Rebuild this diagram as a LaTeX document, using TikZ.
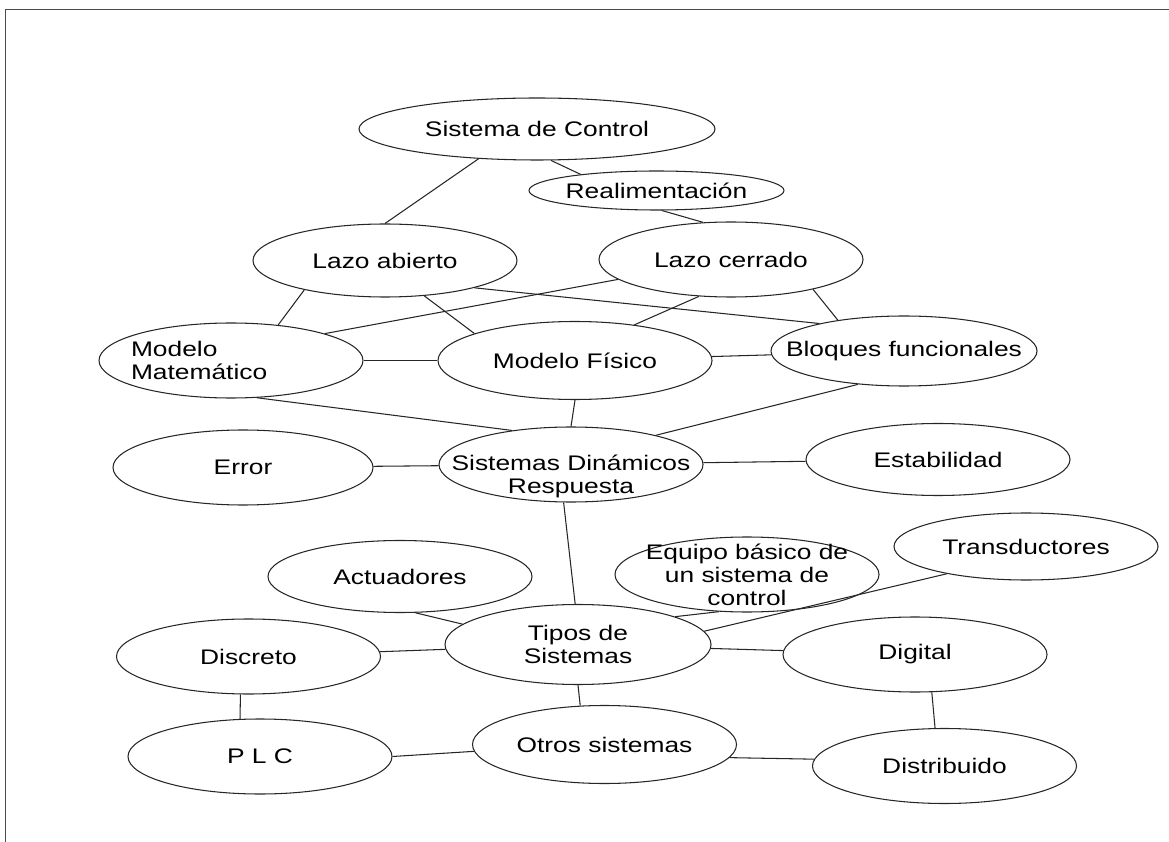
\documentclass[tikz,border=0pt]{standalone}
\usepackage{fontspec}
\setmainfont{Liberation Sans}[FakeStretch=1.25]
\usetikzlibrary{shapes.geometric}
\tikzstyle{concept} = [ellipse, 
draw=black!85, 
line width=0.6pt, 
minimum width=5.28cm, 
minimum height=1.5cm, 
inner xsep=-0.6cm, 
inner ysep=-0.3cm, 
align=center, 
font=\fontsize{12}{13}\selectfont]
\tikzstyle{link} = [draw=black!85, line width=0.6pt]

\begin{document}
\begin{tikzpicture}[node distance=2cm]

\useasboundingbox (0,0) rectangle (23.38,-16.84);
\draw[line width=1pt, black!70] (23.38,-0.19) -- (0.11,-0.19) -- (0.11,-16.84);

\node (sdc) [concept, minimum width=7.12cm, minimum height=1.24cm] at (10.74,-2.58) {Sistema de Control};
\node (realim) [concept, minimum width=5.1cm, minimum height=0.78cm, below of=sdc, xshift=2.39cm, yshift=0.77cm] {Realimentación};
\node (lazoab) [concept, minimum height=1.46cm, below of=sdc, xshift=-3.04cm, yshift=-0.63cm] {Lazo abierto};
\node (lazoce) [concept, below of=realim, xshift=1.49cm, yshift=0.62cm] {Lazo cerrado};

\node (modfis) [concept, minimum width=5.48cm, minimum height=1.56cm, below of=lazoab, xshift=3.8cm] {Modelo Físico};
\node (modmat) [concept, text width=4cm, align=left, below of=lazoab, xshift=-3.08cm] {Modelo\\Matemático};
\node (bloques) [concept, minimum width=5.32cm, minimum height=1.4cm, right of=modfis, xshift=4.58cm, yshift=0.19cm] {Bloques funcionales};

% strut pushes the two lines a bit below the centre
\node (sisdin) [concept, below of=modfis, xshift=-0.08cm, yshift=-0.08cm] {\rule{0pt}{0.78cm}Sistemas Dinámicos\\Respuesta};
\node (error) [concept, minimum width=5.2cm, left of=sisdin, xshift=-4.56cm, yshift=-0.06cm] {Error};
\node (estab) [concept, minimum height=1.44cm, right of=sisdin, xshift=5.34cm, yshift=0.1cm] {Estabilidad};

\node (tipos) [concept, minimum width=5.32cm, minimum height=1.6cm, below of=sisdin, xshift=0.14cm, yshift=-1.6cm] {Tipos de\\Sistemas};
\node (actua) [concept, minimum height=1.44cm, above of=tipos, xshift=-3.56cm, yshift=-0.64cm] {Actuadores};
\node (equipo) [concept, above of=tipos, xshift=3.38cm, yshift=-0.6cm] {Equipo básico de\\un sistema de\\control};
\node (transd) [concept, minimum height=1.34cm, right of=equipo, xshift=3.58cm, yshift=0.56cm] {Transductores};
\node (discreto) [concept, left of=tipos, xshift=-4.59cm, yshift=-0.24cm] {Discreto};
\node (digital) [concept, right of=tipos, xshift=4.74cm, yshift=-0.2cm] {Digital};

\node (otros) [concept, minimum height=1.56cm, below of=tipos, xshift=0.53cm] {Otros sistemas};
\node (plc) [concept, below of=discreto, xshift=0.23cm] {P L C};
\node (distrib) [concept, below of=digital, xshift=0.59cm, yshift=-0.23cm] {Distribuido};

\draw[link] (sdc.207) -- (lazoab.north);
\draw[link] (sdc.294) -- (realim.168);
\draw[link] (realim.285) -- (lazoce.127);
\draw[link] (lazoab.200) -- (modmat.37);
\draw[link] (lazoab.318) -- (modfis.165);
\draw[link] (lazoab.343) -- (bloques.162);
\draw[link] (lazoce.190) -- (modmat.16);
\draw[link] (lazoce.229) -- (modfis.31);
\draw[link] (lazoce.340) -- (bloques.155);
\draw[link] (modmat) -- (modfis);
\draw[link] (modfis) -- (bloques);
\draw[link] (modmat.305) -- (sisdin.150);
\draw[link] (modfis.south) -- (sisdin.north);
\draw[link] (bloques.216) -- (sisdin.19);
\draw[link] (error) -- (sisdin);
\draw[link] (sisdin) -- (estab);
\draw[link] (sisdin.259) -- (tipos.94);
\draw[link] (actua.293) -- (tipos.170);
\draw[link] (equipo.233) -- (tipos.16);
\draw[link] (transd.199) -- (tipos.6);
\draw[link] (discreto) -- (tipos);
\draw[link] (tipos) -- (digital);
\draw[link] (tipos.south) -- (otros.122);
\draw[link] (discreto.258) -- (plc.118);
\draw[link] (plc.east) -- (otros.183);
\draw[link] (otros.354) -- (distrib.177);
\draw[link] (digital.294) -- (distrib.104);

\end{tikzpicture}
\end{document}
